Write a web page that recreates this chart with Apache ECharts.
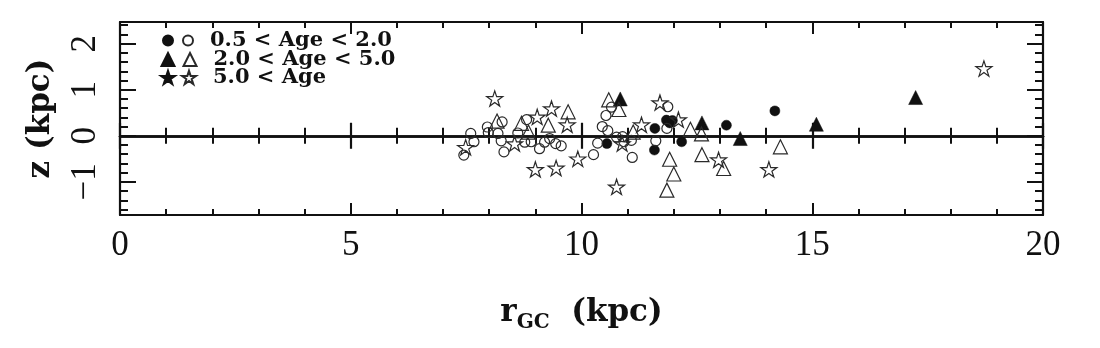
<!DOCTYPE html>
<html>
<head>
<meta charset="utf-8">
<script src="https://cdn.jsdelivr.net/npm/echarts@6/dist/echarts.min.js"></script>
<style>
html,body{margin:0;padding:0;background:#fff;}
#chart{width:1100px;height:348px;}
</style>
</head>
<body>
<div id="chart"></div>
<script>
// ---- data (r_GC kpc, z kpc) ----
const openCircles = [[7.60,0.05],[7.67,-0.13],[7.45,-0.42],[7.96,0.19],[7.98,0.07],[8.19,0.05],[8.28,0.30],[8.26,-0.11],[8.32,-0.35],[8.62,0.06],[8.81,0.35],[8.77,-0.14],[8.91,-0.13],[9.09,-0.28],[9.20,-0.14],[9.31,-0.06],[9.44,-0.17],[9.56,-0.22],[10.26,-0.41],[10.35,-0.16],[10.45,0.20],[10.57,0.11],[10.53,0.44],[10.65,0.62],[10.76,-0.03],[10.89,-0.02],[10.92,-0.13],[11.08,-0.10],[11.10,-0.47],[11.61,-0.11],[11.85,0.16],[11.87,0.63]];
const filledCircles = [[10.55,-0.17],[11.59,0.16],[11.58,-0.31],[11.84,0.34],[11.91,0.28],[11.97,0.33],[12.17,-0.13],[13.14,0.23],[14.19,0.54]];
const openTriangles = [[8.17,0.32],[8.70,0.27],[8.85,0.08],[9.28,0.23],[9.71,0.52],[10.59,0.78],[10.81,0.57],[11.12,0.08],[12.36,0.14],[12.60,0.04],[11.91,-0.51],[12.00,-0.83],[11.85,-1.18],[12.61,-0.41],[13.08,-0.71],[14.31,-0.24]];
const filledTriangles = [[10.84,0.80],[12.61,0.28],[13.44,-0.06],[15.09,0.25],[17.24,0.83]];
const openStars = [[8.12,0.81],[7.49,-0.25],[8.55,-0.17],[9.04,0.41],[9.35,0.59],[9.69,0.24],[9.00,-0.73],[9.45,-0.70],[9.92,-0.50],[10.76,-1.11],[10.88,-0.17],[11.30,0.24],[11.70,0.72],[12.10,0.35],[12.97,-0.52],[14.06,-0.73],[18.72,1.46]];
const filledStars = [];
const groupLabels = ['0.5 < Age < 2.0', '2.0 < Age < 5.0', '5.0 < Age'];
const xRange = [0, 20];
const yRange = [-1.72, 2.47];

const INK = '#111';
const STAR = 'path://M50,0 L61.2,34.5 L97.6,34.5 L68.2,55.9 L79.4,90.5 L50,69.1 L20.6,90.5 L31.8,55.9 L2.4,34.5 L38.8,34.5 Z';

function series(name, data, symbol, size, filled) {
  return {
    type: 'scatter', name: name, data: data, symbol: symbol, symbolSize: size,
    symbolKeepAspect: true, xAxisIndex: 0, yAxisIndex: 0,
    itemStyle: filled ? {color: INK, borderColor: INK, borderWidth: 0.5, opacity: 1}
                      : {color: 'rgba(255,255,255,0)', borderColor: '#2a2a2a', borderWidth: 1.2, opacity: 1},
    emphasis: {disabled: true}
  };
}

const xCommon = {
  type: 'value', min: xRange[0], max: xRange[1], interval: 5,
  splitLine: {show: false},
  axisLine: {onZero: false, lineStyle: {color: INK, width: 2.2}},
  axisTick: {inside: true, length: 12, lineStyle: {color: INK, width: 2}},
  minorTick: {show: true, splitNumber: 5, length: 6, lineStyle: {color: INK, width: 2}},
  axisLabel: {show: false}
};
const yCommon = {
  type: 'value', min: yRange[0], max: yRange[1], minInterval: 1, maxInterval: 1, splitNumber: 4,
  splitLine: {show: false},
  axisLine: {onZero: false, lineStyle: {color: INK, width: 2.2}},
  axisTick: {inside: true, length: 16, lineStyle: {color: INK, width: 2}},
  minorTick: {show: true, splitNumber: 5, length: 8, lineStyle: {color: INK, width: 2}},
  axisLabel: {show: false}
};

function legendRow(top, size, gap, names) {
  return {
    data: names, left: 167 - size / 2, top: top, orient: 'horizontal', padding: 0,
    itemWidth: size, itemHeight: size, itemGap: gap, selectedMode: false,
    formatter: function (n) { return n.indexOf('filled') === 0 ? '' : n; },
    textStyle: {fontFamily: 'DejaVu Serif', fontWeight: 'bold', fontSize: 21, color: INK, padding: [0, 0, 0, 12]}
  };
}

const option = {
  animation: false,
  backgroundColor: '#fff',
  grid: {left: 120, top: 22, width: 923, height: 193, containLabel: false},
  legend: [
    legendRow(30, 10, 8, ['filled ' + groupLabels[0], groupLabels[0]]),
    legendRow(49, 13, 7, ['filled ' + groupLabels[1], groupLabels[1]]),
    legendRow(67, 14, 5, ['filled ' + groupLabels[2], groupLabels[2]])
  ],
  xAxis: [
    Object.assign({}, xCommon, {
      position: 'bottom',
      axisLabel: {show: true, fontFamily: 'Liberation Serif', fontSize: 35, color: INK, margin: 13},
      name: '{r|r}{s|GC}{r|  (kpc)}', nameLocation: 'middle', nameGap: 78,
      nameTextStyle: {rich: {
        r: {fontFamily: 'DejaVu Serif', fontWeight: 'bold', fontSize: 31, color: INK},
        s: {fontFamily: 'DejaVu Serif', fontWeight: 'bold', fontSize: 20, color: INK, padding: [20, 0, 0, 0]}
      }}
    }),
    Object.assign({}, xCommon, {position: 'top'}),
    Object.assign({}, xCommon, {position: 'bottom',
      axisLine: {onZero: true, lineStyle: {color: INK, width: 2.5}},
      axisTick: {inside: true, length: 13, lineStyle: {color: INK, width: 2.2}},
      minorTick: {show: true, splitNumber: 5, length: 8, lineStyle: {color: INK, width: 2}}}),
    Object.assign({}, xCommon, {position: 'bottom',
      axisLine: {onZero: true, lineStyle: {color: INK, width: 2.5}},
      axisTick: {inside: false, length: 13, lineStyle: {color: INK, width: 2.2}},
      minorTick: {show: true, splitNumber: 5, length: 8, lineStyle: {color: INK, width: 2}}})
  ],
  yAxis: [
    Object.assign({}, yCommon, {
      position: 'left',
      axisLabel: {show: true, rotate: 90, fontFamily: 'Liberation Serif', fontSize: 35, color: INK, margin: 17,
        showMinLabel: false, showMaxLabel: false,
        formatter: function (v) { return Math.abs(v - Math.round(v)) < 1e-6 ? String(Math.round(v)).replace('-', '\u2212') : ''; }},
      name: 'z (kpc)', nameLocation: 'middle', nameGap: 64,
      nameTextStyle: {fontFamily: 'DejaVu Serif', fontWeight: 'bold', fontSize: 31, color: INK}
    }),
    Object.assign({}, yCommon, {position: 'right'})
  ],
  series: [
    series('filled ' + groupLabels[0], filledCircles, 'circle', 10, true),
    series(groupLabels[0], openCircles, 'circle', 10, false),
    series('filled ' + groupLabels[1], filledTriangles, 'triangle', 14, true),
    series(groupLabels[1], openTriangles, 'triangle', 14, false),
    series('filled ' + groupLabels[2], filledStars, STAR, 16, true),
    series(groupLabels[2], openStars, STAR, 16, false)
  ]
};

const chart = echarts.init(document.getElementById('chart'), null, {renderer: 'canvas'});
chart.setOption(option);
</script>
</body>
</html>
